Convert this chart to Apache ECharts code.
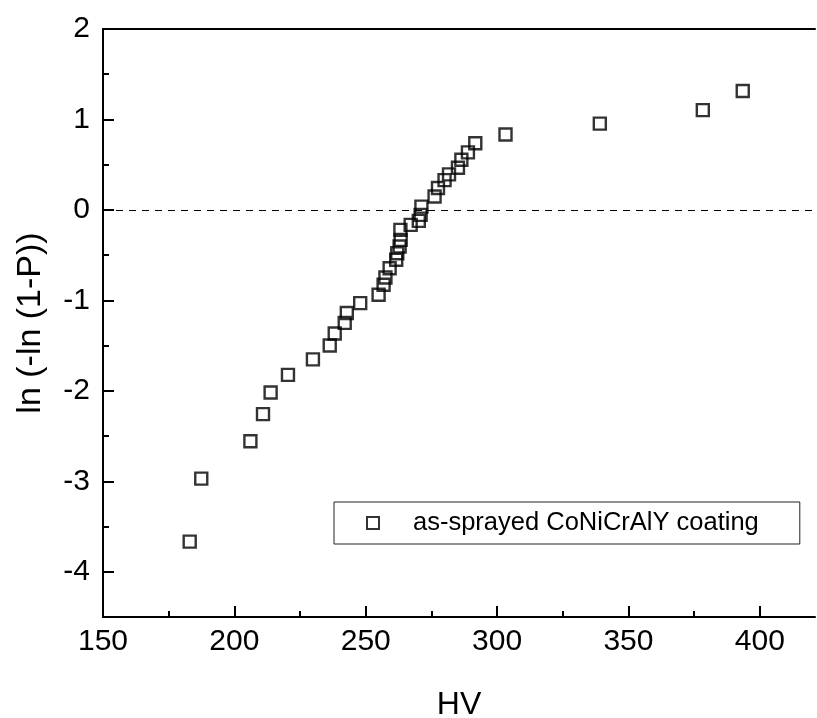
<!DOCTYPE html>
<html>
<head>
<meta charset="utf-8">
<script src="https://cdn.jsdelivr.net/npm/echarts@6/dist/echarts.min.js"></script>
<style>
  html, body { margin: 0; padding: 0; background: #fff; }
  #chart { width: 817px; height: 718px; }
</style>
</head>
<body>
<div id="chart"></div>
<script>
// hardness values (HV) and Weibull ordinate ln(-ln(1-P))
const hv = [183.0, 187.4, 206.1, 210.9, 213.8, 220.4, 229.9, 236.3, 238.2, 242.0,
  242.8, 247.9, 254.9, 256.8, 257.5, 259.1, 261.6, 262.0, 262.9, 263.3,
  263.2, 267.1, 270.2, 270.9, 271.2, 276.2, 277.5, 280.0, 281.7, 285.1,
  286.4, 288.9, 291.7, 303.2, 339.1, 378.3, 393.5];
const lnP = [-3.667, -2.970, -2.557, -2.257, -2.019, -1.824, -1.652, -1.498, -1.366, -1.249,
  -1.139, -1.030, -0.937, -0.827, -0.747, -0.644, -0.551, -0.479, -0.405, -0.331,
  -0.221, -0.165, -0.121, -0.055, 0.037, 0.149, 0.243, 0.329, 0.393, 0.467,
  0.554, 0.636, 0.737, 0.834, 0.954, 1.103, 1.314];

const xMajor = [150, 200, 250, 300, 350, 400];
const xMinor = [175, 225, 275, 325, 375];
const yMajor = [-4, -3, -2, -1, 0, 1, 2];
const yMinor = [-3.5, -2.5, -1.5, -0.5, 0.5, 1.5];
const seriesName = "as-sprayed CoNiCrAlY coating";

const font = "'Liberation Sans', Arial, sans-serif";
const points = hv.map((v, i) => [v, lnP[i]]);

const W = 817, H = 718;
const grid = { left: 103, top: 29, right: 2, bottom: 101 };
const gridW = W - grid.left - grid.right;
const gridH = H - grid.top - grid.bottom;

const chart = echarts.init(document.getElementById("chart"));

const blackLine = { onZero: false, lineStyle: { color: "#000", width: 2 } };
const noLine = { show: false, onZero: false };

// tick-only axes: put on the opposite side and shifted back, so the
// outward ticks end up pointing into the plot
function xTicks(values, len) {
  return {
    type: "value", min: 150, max: 421, position: "top", offset: -gridH,
    axisLine: noLine, axisLabel: { show: false }, splitLine: { show: false },
    axisTick: { length: len, lineStyle: { color: "#000", width: 2 }, customValues: values }
  };
}
function yTicks(values, len) {
  return {
    type: "value", min: -4.5, max: 2, position: "right", offset: -gridW,
    axisLine: noLine, axisLabel: { show: false }, splitLine: { show: false },
    axisTick: { length: len, lineStyle: { color: "#000", width: 2 }, customValues: values }
  };
}

const option = {
  animation: false,
  backgroundColor: "#fff",
  textStyle: { fontFamily: font, color: "#000" },
  grid: Object.assign({ outerBoundsMode: "none", containLabel: false }, grid),
  legend: {
    data: [seriesName],
    left: 334,
    top: 502,
    padding: [8, 41, 8, 32],
    itemWidth: 12,
    itemHeight: 12,
    borderColor: "#222",
    borderWidth: 1,
    textStyle: { fontSize: 25.5, color: "#000", fontFamily: font, padding: [0, 0, 0, 29] }
  },
  xAxis: [
    {
      type: "value",
      min: 150,
      max: 421,
      position: "bottom",
      name: "HV",
      nameLocation: "middle",
      nameGap: 72,
      nameTextStyle: { fontSize: 32, color: "#000", fontFamily: font },
      axisLine: blackLine,
      axisTick: { show: false },
      axisLabel: { fontSize: 30, color: "#000", margin: 10, fontFamily: font, customValues: xMajor },
      splitLine: { show: false }
    },
    {
      type: "value",
      min: 150,
      max: 421,
      position: "top",
      axisLine: blackLine,
      axisTick: { show: false },
      axisLabel: { show: false },
      splitLine: { show: false }
    },
    xTicks(xMajor, 11),
    xTicks(xMinor, 6)
  ],
  yAxis: [
    {
      type: "value",
      min: -4.5,
      max: 2,
      position: "left",
      name: "ln (-ln (1-P))",
      nameLocation: "middle",
      nameGap: 55,
      nameTextStyle: { fontSize: 34, color: "#000", fontFamily: font },
      axisLine: blackLine,
      axisTick: { show: false },
      axisLabel: { fontSize: 30, color: "#000", margin: 13, fontFamily: font, customValues: yMajor },
      splitLine: { show: false }
    },
    yTicks(yMajor, 11),
    yTicks(yMinor, 6)
  ],
  series: [
    {
      name: seriesName,
      type: "scatter",
      xAxisIndex: 0,
      yAxisIndex: 0,
      symbol: "rect",
      symbolSize: 12,
      itemStyle: { color: "rgba(0,0,0,0)", borderColor: "#000", borderWidth: 2.4 },
      data: points,
      markLine: {
        silent: true,
        symbol: "none",
        label: { show: false },
        lineStyle: { color: "#000", width: 1, type: [7, 6] },
        data: [{ yAxis: 0 }]
      }
    }
  ]
};

chart.setOption(option);
</script>
</body>
</html>
